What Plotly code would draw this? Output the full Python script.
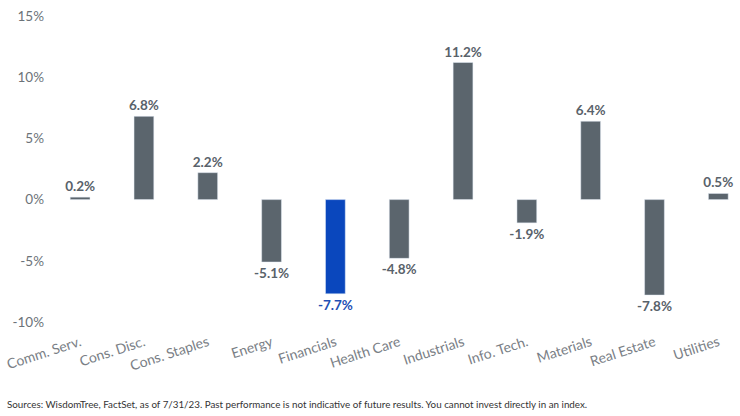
import plotly.graph_objects as go

categories = ["Comm. Serv.", "Cons. Disc.", "Cons. Staples", "Energy", "Financials",
              "Health Care", "Industrials", "Info. Tech.", "Materials", "Real Estate", "Utilities"]
values = [0.2, 6.8, 2.2, -5.1, -7.7, -4.8, 11.2, -1.9, 6.4, -7.8, 0.5]
highlight = "Financials"

GRAY = "#5b656d"
BLUE = "#0a47bd"
colors = [BLUE if c == highlight else GRAY for c in categories]
text_colors = ["#1f4fb5" if c == highlight else "#59626a" for c in categories]
labels = [f"{v:.1f}%" for v in values]

fig = go.Figure(go.Bar(
    x=categories, y=values, marker_color=colors, width=0.31,
    text=labels, textposition="outside", cliponaxis=False, constraintext="none",
    textfont=dict(family="Lato", size=13.5, color=text_colors, weight="bold"),
))

fig.update_layout(
    width=740, height=416,
    margin=dict(l=45, r=0, t=16, b=94),
    paper_bgcolor="white", plot_bgcolor="white",
    showlegend=False,
    font=dict(family="Lato", color="#6b7278"),
    xaxis=dict(range=[-0.55, 10.34], tickangle=-18, showgrid=False, showline=False,
               zeroline=False, ticks="outside", ticklen=6, tickcolor="rgba(0,0,0,0)",
               tickfont=dict(size=14, color="#7a8086")),
    yaxis=dict(range=[-10, 15], tickvals=[-10, -5, 0, 5, 10, 15],
               ticktext=["-10%", "-5%", "0%", "5%", "10%", "15%"],
               showgrid=False, zeroline=False, showline=False,
               tickfont=dict(size=13.5, color="#6b7278")),
    annotations=[dict(
        text="Sources: WisdomTree, FactSet, as of 7/31/23. Past performance is not indicative of future results. You cannot invest directly in an index.",
        xref="paper", yref="paper", x=-40/695, y=-(404 - 322) / 306,
        xanchor="left", yanchor="middle", showarrow=False,
        font=dict(family="Lato", size=9.8, color="#333333"))],
)

fig.write_html("out.html")
